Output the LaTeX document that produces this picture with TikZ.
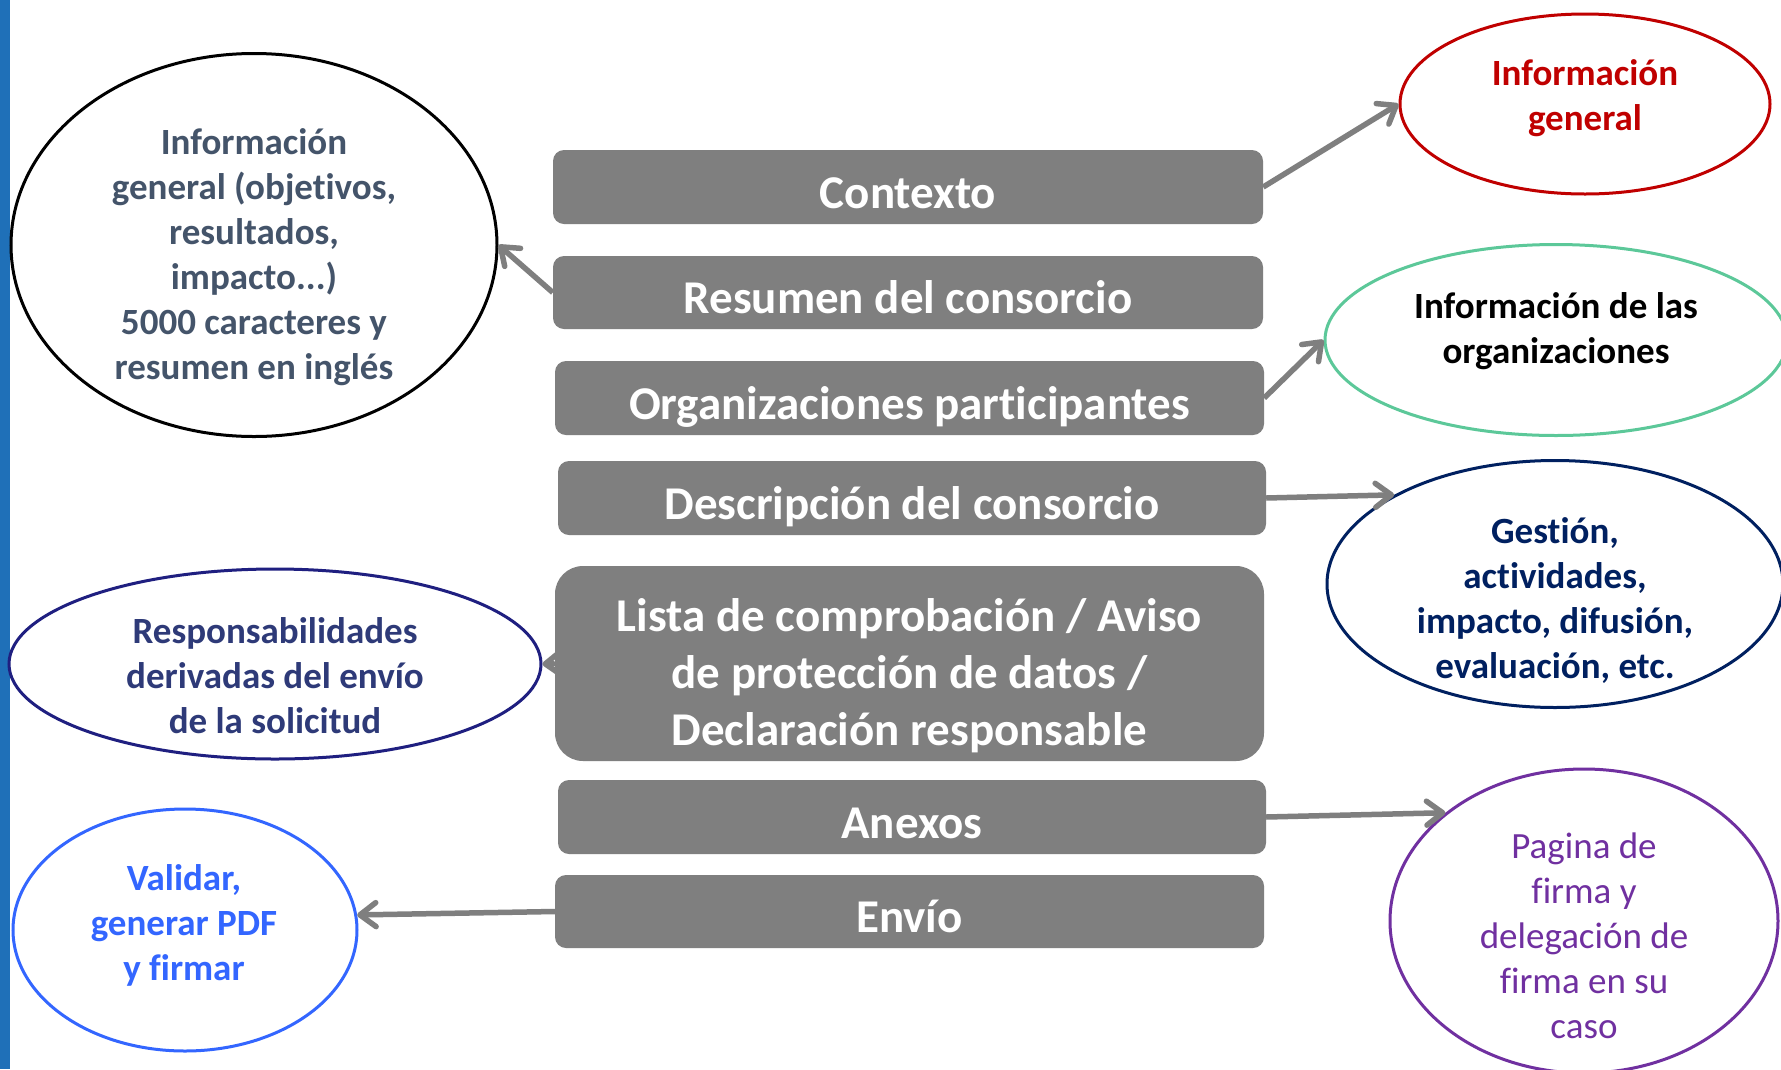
\documentclass[tikz,border=0pt]{standalone}
\usepackage{fontspec}
\setmainfont[Ligatures=NoCommon]{Carlito}
\usetikzlibrary{arrows.meta,shapes.geometric}
\definecolor{boxgray}{HTML}{7F7F7F}
\definecolor{barblue}{HTML}{1F70B8}
\definecolor{txtslate}{HTML}{44546A}
\definecolor{dred}{HTML}{C00000}
\definecolor{mint}{HTML}{5CC899}
\definecolor{navy}{HTML}{002060}
\definecolor{purp}{HTML}{7030A0}
\definecolor{respline}{HTML}{1F1F80}
\definecolor{resptxt}{HTML}{2E3A78}
\definecolor{vblue}{HTML}{3366FF}
\tikzset{
  stepbox/.style={fill=boxgray, rounded corners=11pt, inner sep=0pt, text=white,
    font=\fontsize{47}{57}\selectfont\bfseries, text height=42pt, text depth=0pt},
  oval/.style={ellipse, draw, line width=3pt, inner sep=0pt},
  otext/.style={align=center, inner sep=0pt, font=\fontsize{37}{45}\selectfont\bfseries},
  link/.style={draw=boxgray, line width=5.5pt,
    -{Straight Barb[length=16pt,width=24pt,line width=5.5pt,round]}},
}
\begin{document}
\begin{tikzpicture}[x=1pt,y=-1pt]
\useasboundingbox (0,0) rectangle (1781,1069);
\clip (0,0) rectangle (1781,1069);
\fill[white] (0,0) rectangle (1781,1069);
\fill[barblue] (0,0) rectangle (10,1069);

% central boxes
\node[stepbox, minimum width=710pt, minimum height=74pt] (ctx) at (908,187) {Contexto};
\node[stepbox, minimum width=710pt, minimum height=73pt] (res) at (908,292.5) {Resumen del consorcio};
\node[stepbox, minimum width=709pt, minimum height=74pt] (org) at (909.5,398) {Organizaciones participantes};
\node[stepbox, minimum width=708pt, minimum height=74pt] (desc) at (912,498) {Descripción del consorcio};
\node[fill=boxgray, rounded corners=28pt, inner sep=0pt, text=white, align=center,
  font=\fontsize{47}{57}\selectfont\bfseries, minimum width=709pt, minimum height=195pt]
  (lista) at (909.5,663.5) {\rule{0pt}{58pt}Lista de comprobación / Aviso\\de protección de datos /\\Declaración responsable};
\node[stepbox, minimum width=708pt, minimum height=74pt] (anex) at (912,817) {Anexos};
\node[stepbox, minimum width=709pt, minimum height=73pt] (envio) at (909.5,911.5) {Envío};

% ellipses
\node[oval, draw=black, minimum width=486pt, minimum height=383pt] (big) at (254,245) {};
\node[otext, text=txtslate] (bigt) at (254,257.5) {Información\\general (objetivos,\\resultados,\\impacto...)\\5000 caracteres y\\resumen en inglés};

\node[oval, draw=dred, minimum width=370pt, minimum height=180pt] (red) at (1585,104) {};
\node[otext, text=dred] (redt) at (1585,98) {Información\\general};

\node[oval, draw=mint, minimum width=462pt, minimum height=191pt] (green) at (1556,340) {};
\node[otext, text=black] (greent) at (1556,331) {Información de las\\organizaciones};

\node[oval, draw=navy, minimum width=456pt, minimum height=247pt] (gest) at (1555,584) {};
\node[otext, text=navy] (gestt) at (1555,600.5) {Gestión,\\actividades,\\impacto, difusión,\\evaluación, etc.};

\node[oval, draw=purp, minimum width=388pt, minimum height=304pt] (pur) at (1584,921) {};
\node[otext, text=purp, font=\fontsize{37}{45}\selectfont] (purt) at (1584,936) {Pagina de\\firma y\\delegación de\\firma en su\\caso};

\node[oval, draw=respline, minimum width=532pt, minimum height=190pt] (resp) at (275,664) {};
\node[otext, text=resptxt] (respt) at (275,676) {Responsabilidades\\derivadas del envío\\de la solicitud};

\node[oval, draw=vblue, minimum width=344pt, minimum height=242pt] (valid) at (185,930) {};
\node[otext, text=vblue] (validt) at (184,925.5) {Validar,\\generar PDF\\y firmar};

% connectors
\draw[link] (ctx.east) -- (red.west);
\draw[link] (res.west) -- (big.east);
\draw[link] (org.east) -- (green.west);
\draw[link] (desc.east) -- (gest.151.6);
\draw[link] (lista.west) -- (resp.east);
\draw[link] (anex.east) -- (pur.142.5);
\draw[link] (envio.west) -- (valid.5);
\end{tikzpicture}
\end{document}
